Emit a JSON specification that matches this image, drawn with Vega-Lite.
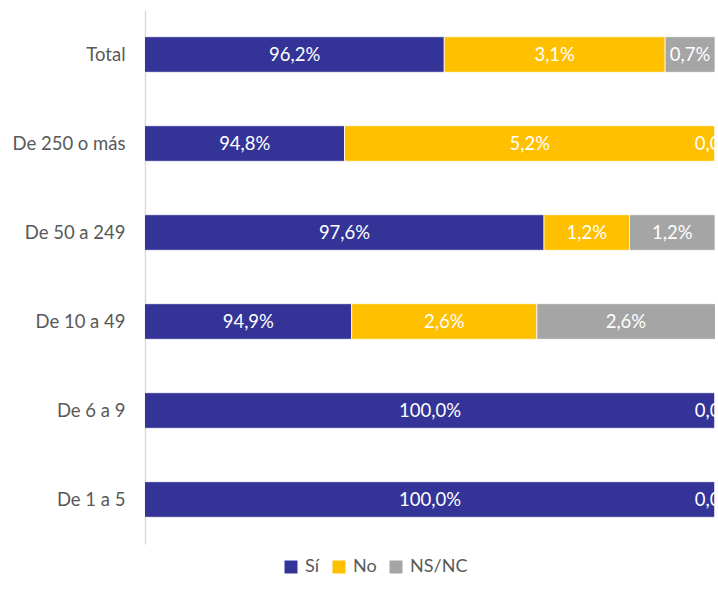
{
  "$schema": "https://vega.github.io/schema/vega-lite/v6.json",
  "autosize": {"type": "none"},
  "width": 570,
  "height": 534,
  "padding": {"left": 145, "top": 10, "right": 3, "bottom": 59},
  "background": "white",
  "config": {"view": {"stroke": null}, "font": "Lato"},
  "data": {
    "values": [
      {"group": "Total", "cat": "Sí", "ord": 1, "value": 96.2},
      {"group": "Total", "cat": "No", "ord": 2, "value": 3.1},
      {"group": "Total", "cat": "NS/NC", "ord": 3, "value": 0.7},
      {"group": "De 250 o más", "cat": "Sí", "ord": 1, "value": 94.8},
      {"group": "De 250 o más", "cat": "No", "ord": 2, "value": 5.2},
      {"group": "De 250 o más", "cat": "NS/NC", "ord": 3, "value": 0.0},
      {"group": "De 50 a 249", "cat": "Sí", "ord": 1, "value": 97.6},
      {"group": "De 50 a 249", "cat": "No", "ord": 2, "value": 1.2},
      {"group": "De 50 a 249", "cat": "NS/NC", "ord": 3, "value": 1.2},
      {"group": "De 10 a 49", "cat": "Sí", "ord": 1, "value": 94.9},
      {"group": "De 10 a 49", "cat": "No", "ord": 2, "value": 2.6},
      {"group": "De 10 a 49", "cat": "NS/NC", "ord": 3, "value": 2.6},
      {"group": "De 6 a 9", "cat": "Sí", "ord": 1, "value": 100.0},
      {"group": "De 6 a 9", "cat": "No", "ord": 2, "value": 0.0},
      {"group": "De 1 a 5", "cat": "Sí", "ord": 1, "value": 100.0},
      {"group": "De 1 a 5", "cat": "No", "ord": 2, "value": 0.0}
    ]
  },
  "transform": [
    {"stack": "value", "groupby": ["group"], "sort": [{"field": "ord", "order": "ascending"}], "as": ["v0", "v1"]},
    {"calculate": "(max(datum.v0, 92) + min(datum.v1, 100)) / 2", "as": "mid"},
    {"calculate": "replace(format(datum.value, '.1f'), '.', ',') + '%'", "as": "label"}
  ],
  "encoding": {
    "y": {
      "field": "group",
      "type": "nominal",
      "sort": ["Total", "De 250 o más", "De 50 a 249", "De 10 a 49", "De 6 a 9", "De 1 a 5"],
      "scale": {"paddingInner": 0.6, "paddingOuter": 0.3},
      "axis": {
        "title": null,
        "ticks": false,
        "domainColor": "#d9d9d9",
        "domainWidth": 1.5,
        "labelFontSize": 18.5,
        "labelColor": "#595959",
        "labelPadding": 20
      }
    }
  },
  "layer": [
    {
      "mark": {"type": "bar", "clip": true, "stroke": "white", "strokeWidth": 0.75},
      "encoding": {
        "x": {"field": "v0", "type": "quantitative", "scale": {"domain": [92, 100], "nice": false, "zero": false}, "axis": null},
        "x2": {"field": "v1"},
        "color": {
          "field": "cat",
          "type": "nominal",
          "scale": {"domain": ["Sí", "No", "NS/NC"], "range": ["#343498", "#FFC000", "#A5A5A5"]},
          "sort": ["Sí", "No", "NS/NC"],
          "legend": {
            "title": null,
            "orient": "none",
            "direction": "horizontal",
            "legendX": 137,
            "legendY": 548,
            "symbolType": "square",
            "symbolSize": 169,
            "symbolStrokeWidth": 0,
            "labelFontSize": 18,
            "labelColor": "#595959",
            "columnPadding": 10,
            "labelOffset": 5
          }
        }
      }
    },
    {
      "mark": {"type": "text", "clip": true, "color": "white", "fontSize": 18.5, "align": "center", "baseline": "middle"},
      "encoding": {
        "x": {"field": "mid", "type": "quantitative"},
        "text": {"field": "label"}
      }
    }
  ]
}
